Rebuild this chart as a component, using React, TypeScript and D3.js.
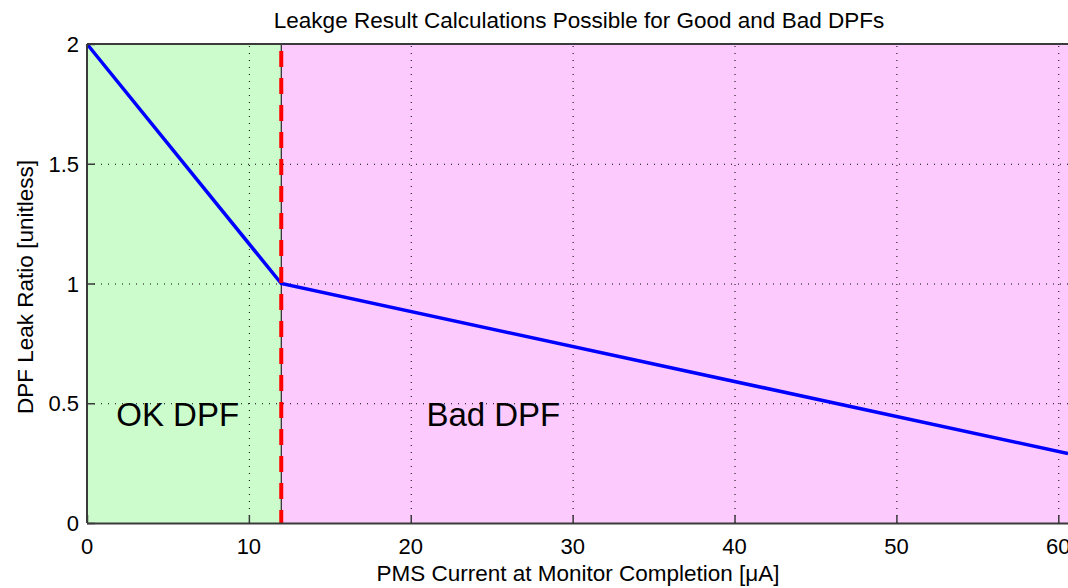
import * as d3 from 'd3'
import { useEffect, useRef } from 'react'

// regions of the chart
const regionNames = ['OK DPF', 'Bad DPF']
const regionStart = [0, 12]
const regionEnd = [12, 60.6]
const regionLabelX = [5.6, 25.1]
const regionColors = ['#ccfccc', '#fccafc']

// leak ratio curve
const currentValues = [0, 12, 60.6]
const ratioValues = [2, 1, 0.29]

const thresholdCurrent = 12

const xTicks = [0, 10, 20, 30, 40, 50, 60]
const yTicks = [0, 0.5, 1, 1.5, 2]
const yTickLabels = ['0', '0.5', '1', '1.5', '2']

export default function App() {
  const svgRef = useRef(null)

  const width = 1068
  const height = 588
  const margin = { top: 44, right: 0, bottom: 65, left: 87 }

  useEffect(() => {
    const svg = d3.select(svgRef.current)
    svg.selectAll('*').remove()

    const font = 'Liberation Sans, Arial, sans-serif'

    const xScale = d3.scaleLinear()
      .domain([0, 60.6])
      .range([margin.left, width - margin.right])

    const yScale = d3.scaleLinear()
      .domain([0, 2])
      .range([height - margin.bottom, margin.top])

    // background regions
    svg.selectAll('.region')
      .data(regionNames)
      .enter()
      .append('rect')
      .attr('class', 'region')
      .attr('x', (_d, i) => xScale(regionStart[i]))
      .attr('y', yScale(2))
      .attr('width', (_d, i) => xScale(regionEnd[i]) - xScale(regionStart[i]))
      .attr('height', yScale(0) - yScale(2))
      .style('fill', (_d, i) => regionColors[i])

    // dotted grid
    svg.selectAll('.vgrid')
      .data(xTicks.filter(d => d > 0))
      .enter()
      .append('line')
      .attr('x1', d => xScale(d) + 0.5)
      .attr('x2', d => xScale(d) + 0.5)
      .attr('y1', yScale(0))
      .attr('y2', yScale(2))
      .style('stroke', '#000')
      .style('stroke-width', 1)
      .style('stroke-dasharray', '1 6')

    svg.selectAll('.hgrid')
      .data(yTicks.filter(d => d > 0))
      .enter()
      .append('line')
      .attr('x1', xScale(0))
      .attr('x2', width)
      .attr('y1', d => yScale(d) + 0.5)
      .attr('y2', d => yScale(d) + 0.5)
      .style('stroke', '#000')
      .style('stroke-width', 1)
      .style('stroke-dasharray', '1 6')

    // region labels
    svg.selectAll('.regionLabel')
      .data(regionNames)
      .enter()
      .append('text')
      .attr('x', (_d, i) => xScale(regionLabelX[i]))
      .attr('y', yScale(0.405))
      .attr('text-anchor', 'middle')
      .style('font-family', font)
      .style('font-size', '33px')
      .style('fill', '#000')
      .text(d => d)

    // thin black line under threshold
    svg.append('line')
      .attr('x1', xScale(thresholdCurrent))
      .attr('x2', xScale(thresholdCurrent))
      .attr('y1', yScale(0))
      .attr('y2', yScale(2))
      .style('stroke', '#000')
      .style('stroke-width', 1)

    // blue ratio line
    const line = d3.line<number>()
      .x((_d, i) => xScale(currentValues[i]))
      .y(d => yScale(d))

    svg.append('path')
      .datum(ratioValues)
      .attr('d', line)
      .style('fill', 'none')
      .style('stroke', '#0000ff')
      .style('stroke-width', 3.5)

    // red dashed threshold
    svg.append('line')
      .attr('x1', xScale(thresholdCurrent))
      .attr('x2', xScale(thresholdCurrent))
      .attr('y1', yScale(2) + 7)
      .attr('y2', yScale(0))
      .style('stroke', '#ff0000')
      .style('stroke-width', 4)
      .style('stroke-dasharray', '16 11')

    // axes frame
    const axisColor = '#3a3a3a'
    svg.append('line')
      .attr('x1', xScale(0)).attr('x2', width)
      .attr('y1', yScale(0) + 0.5).attr('y2', yScale(0) + 0.5)
      .style('stroke', axisColor).style('stroke-width', 2)
    svg.append('line')
      .attr('x1', xScale(0)).attr('x2', width)
      .attr('y1', yScale(2)).attr('y2', yScale(2))
      .style('stroke', axisColor).style('stroke-width', 2)
    svg.append('line')
      .attr('x1', xScale(0)).attr('x2', xScale(0))
      .attr('y1', yScale(0)).attr('y2', yScale(2))
      .style('stroke', axisColor).style('stroke-width', 2)

    // ticks (inward)
    svg.selectAll('.xtick')
      .data(xTicks)
      .enter()
      .append('line')
      .attr('x1', d => xScale(d) + 0.5)
      .attr('x2', d => xScale(d) + 0.5)
      .attr('y1', yScale(0))
      .attr('y2', yScale(0) - 8)
      .style('stroke', axisColor)
      .style('stroke-width', 1.5)

    svg.selectAll('.ytick')
      .data(yTicks)
      .enter()
      .append('line')
      .attr('x1', xScale(0))
      .attr('x2', xScale(0) + 8)
      .attr('y1', d => yScale(d) + 0.5)
      .attr('y2', d => yScale(d) + 0.5)
      .style('stroke', axisColor)
      .style('stroke-width', 1.5)

    // tick labels
    svg.selectAll('.xlabel')
      .data(xTicks)
      .enter()
      .append('text')
      .attr('x', d => xScale(d))
      .attr('y', yScale(0) + 31)
      .attr('text-anchor', 'middle')
      .style('font-family', font)
      .style('font-size', '22px')
      .style('fill', '#000')
      .text(d => d)

    svg.selectAll('.ylabel')
      .data(yTicks)
      .enter()
      .append('text')
      .attr('x', xScale(0) - 8)
      .attr('y', d => yScale(d) + 8)
      .attr('text-anchor', 'end')
      .style('font-family', font)
      .style('font-size', '22px')
      .style('fill', '#000')
      .text((_d, i) => yTickLabels[i])

    // title and axis titles
    svg.append('text')
      .attr('x', 579)
      .attr('y', 28)
      .attr('text-anchor', 'middle')
      .style('font-family', font)
      .style('font-size', '22.5px')
      .style('fill', '#000')
      .text('Leakge Result Calculations Possible for Good and Bad DPFs')

    svg.append('text')
      .attr('x', 578)
      .attr('y', 581)
      .attr('text-anchor', 'middle')
      .style('font-family', font)
      .style('font-size', '22.5px')
      .style('fill', '#000')
      .text('PMS Current at Monitor Completion [\u03bcA]')

    svg.append('text')
      .attr('transform', `translate(33, 287) rotate(-90)`)
      .attr('text-anchor', 'middle')
      .style('font-family', font)
      .style('font-size', '22.5px')
      .style('fill', '#000')
      .text('DPF Leak Ratio [unitless]')
  }, [svgRef])

  return (
    <svg ref={svgRef} width={width} height={height}
      style={{ position: 'absolute', left: 0, top: 0, background: '#fff' }}>
    </svg>
  )
}
